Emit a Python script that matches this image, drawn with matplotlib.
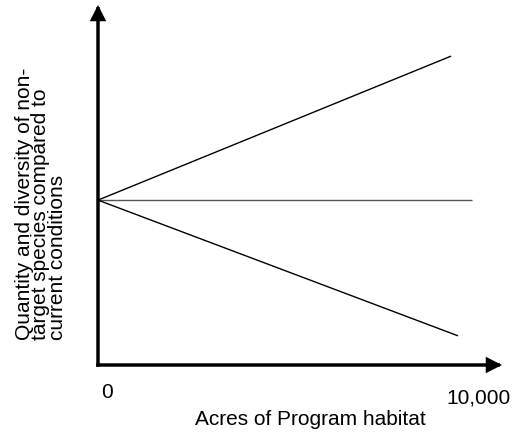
import matplotlib
matplotlib.use("Agg")
import matplotlib.pyplot as plt

plt.rcParams['font.family'] = ['Liberation Sans', 'DejaVu Sans']

# ---- data ----
scenarios = ['increase', 'no change', 'decrease']
x_start = [0, 0, 0]
x_end = [9440, 10000, 9626]
y_start = [45.8, 45.8, 45.8]
y_end = [85.8, 45.8, 8.1]
xtick_labels = ['0', '10,000']
xlabel = 'Acres of Program habitat'
ylabel = 'Quantity and diversity of non-\ntarget species compared to\ncurrent conditions'

W, H = 516, 437
fig = plt.figure(figsize=(W / 100, H / 100), dpi=100)

def fx(px):
    return px / W

def fy(py):
    return (H - py) / H

ax = fig.add_axes([fx(98), fy(365), fx(502) - fx(98), fy(5) - fy(365)])
ax.set_xlim(0, 10802)
ax.set_ylim(0, 100)
ax.axis('off')

line_colors = ['black', '#555555', 'black']
for xs, xe, ys, ye, c in zip(x_start, x_end, y_start, y_end, line_colors):
    ax.plot([xs, xe], [ys, ye], color=c, lw=1.0, solid_capstyle='butt', clip_on=False)

arrow_kw = dict(arrowstyle='-|>,head_length=0.55,head_width=0.28', lw=2.5,
                color='black', shrinkA=0, shrinkB=0, mutation_scale=14,
                capstyle='projecting', joinstyle='miter')
ax.annotate('', xy=(0, 100), xytext=(0, 0), arrowprops=arrow_kw, annotation_clip=False)
ax.annotate('', xy=(10802, 0), xytext=(0, 0), arrowprops=arrow_kw, annotation_clip=False)

fs = 15
fig.text(fx(106.5), fy(398), xtick_labels[0], ha='center', va='baseline', fontsize=fs)
fig.text(fx(478), fy(404), xtick_labels[1], ha='center', va='baseline', fontsize=fs)
fig.text(fx(195), fy(425), xlabel, ha='left', va='baseline', fontsize=fs)
fig.text(fx(41), fy(340), ylabel, rotation=90, ha='center', va='bottom',
         multialignment='left', linespacing=0.86, fontsize=fs)

fig.savefig('out.png', dpi=100)
